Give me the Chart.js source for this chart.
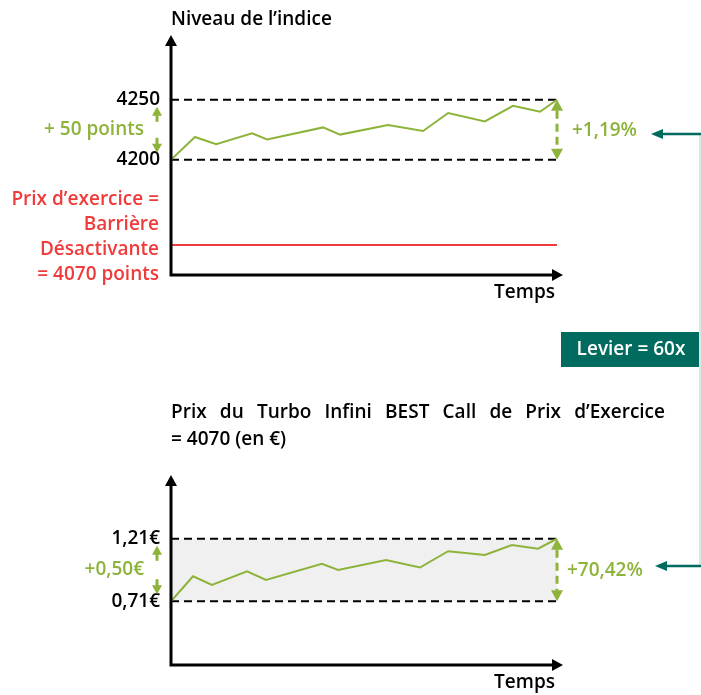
<!DOCTYPE html>
<html>
<head>
<meta charset="utf-8">
<script src="https://cdn.jsdelivr.net/npm/chart.js@4.4.1/dist/chart.umd.min.js"></script>
<style>
  html, body { margin: 0; padding: 0; background: #ffffff; }
  #wrap { position: relative; width: 701px; height: 695px; overflow: hidden; }
  canvas { position: absolute; left: 0; top: 0; }
</style>
</head>
<body>
<div id="wrap">
  <canvas id="c1" width="701" height="695"></canvas>
  <canvas id="c2" width="701" height="695"></canvas>
</div>
<script>
// ---------- Data ----------
// Top chart: index level over time (time in arbitrary units, 0..100)
const indexTimes  = [0, 6.2, 11.7, 21.0, 24.9, 39.4, 43.8, 56.2, 65.3, 71.8, 81.3, 88.6, 95.6, 100];
const indexValues = [4200, 4219, 4213, 4222, 4217, 4227, 4221, 4229, 4224, 4239, 4232, 4245, 4240, 4250];
const indexRefLevels = [4200, 4250];           // dashed reference lines
const indexTickLabels = ['4200', '4250'];
// Barrier line: labelled 4070 points, drawn schematically at this level in the picture
const barrierDrawLevel = 4129;
const barrierLabel = ['Prix d\u2019exercice =', 'Barri\u00e8re', 'D\u00e9sactivante', '= 4070 points'];

// Bottom chart: turbo price over time
const turboTimes  = [0, 5.7, 10.6, 19.7, 24.6, 39.1, 43.3, 55.7, 64.5, 71.8, 81.3, 88.3, 95.1, 100];
const turboValues = [0.71, 0.91, 0.84, 0.95, 0.88, 1.01, 0.96, 1.04, 0.98, 1.11, 1.08, 1.16, 1.13, 1.21];
const turboRefLevels = [0.71, 1.21];
const turboTickLabels = ['0,71\u20ac', '1,21\u20ac'];

const indexDeltaLabel = '+ 50 points';
const indexPctLabel = '+1,19%';
const turboDeltaLabel = '+0,50\u20ac';
const turboPctLabel = '+70,42%';
const leverageLabel = 'Levier = 60x';
const title1 = 'Niveau de l\u2019indice';
const title2Line1 = 'Prix du Turbo Infini BEST Call de Prix d\u2019Exercice';
const title2Line2 = '= 4070 (en \u20ac)';
const xAxisLabel = 'Temps';

// ---------- Styles ----------
const GREEN = '#8db33a';
const RED = '#ef3b3b';
const TEAL = '#006b5e';
const FONT = '600 19px "Open Sans", Lato, sans-serif';

function arrowHead(ctx, x, y, dir, len, half) {
  ctx.beginPath();
  ctx.moveTo(x, y);
  if (dir === 'up') { ctx.lineTo(x - half, y + len); ctx.lineTo(x + half, y + len); }
  if (dir === 'down') { ctx.lineTo(x - half, y - len); ctx.lineTo(x + half, y - len); }
  if (dir === 'right') { ctx.lineTo(x - len, y - half); ctx.lineTo(x - len, y + half); }
  if (dir === 'left') { ctx.lineTo(x + len, y - half); ctx.lineTo(x + len, y + half); }
  ctx.closePath();
  ctx.fill();
}

function drawAxes(chart) {
  const ctx = chart.ctx, a = chart.chartArea;
  ctx.save();
  ctx.strokeStyle = '#000'; ctx.fillStyle = '#000'; ctx.lineWidth = 3;
  ctx.beginPath();
  ctx.moveTo(a.left, a.top + 8); ctx.lineTo(a.left, a.bottom);
  ctx.lineTo(a.right - 8, a.bottom);
  ctx.stroke();
  arrowHead(ctx, a.left, a.top, 'up', 11, 6);
  arrowHead(ctx, a.right, a.bottom, 'right', 11, 6);
  ctx.font = FONT;
  ctx.textAlign = 'right'; ctx.textBaseline = 'middle';
  ctx.fillText(xAxisLabel, a.right - 8, a.bottom + 18);
  ctx.restore();
}

function drawDoubleArrowSmall(ctx, x, yTop, yBot) {
  ctx.save();
  ctx.fillStyle = GREEN; ctx.strokeStyle = GREEN; ctx.lineWidth = 3;
  arrowHead(ctx, x, yTop + 7, 'up', 9, 5);
  ctx.beginPath(); ctx.moveTo(x, yTop + 15); ctx.lineTo(x, yTop + 22); ctx.stroke();
  ctx.beginPath(); ctx.moveTo(x, yBot - 22); ctx.lineTo(x, yBot - 15); ctx.stroke();
  arrowHead(ctx, x, yBot - 7, 'down', 9, 5);
  ctx.restore();
}

function drawDashedDoubleArrow(ctx, x, yTop, yBot) {
  ctx.save();
  ctx.fillStyle = GREEN; ctx.strokeStyle = GREEN; ctx.lineWidth = 3;
  arrowHead(ctx, x, yTop, 'up', 11, 6);
  arrowHead(ctx, x, yBot, 'down', 11, 6);
  ctx.setLineDash([8, 5]);
  ctx.beginPath(); ctx.moveTo(x, yTop + 11); ctx.lineTo(x, yBot - 11); ctx.stroke();
  ctx.restore();
}

function refLines(chart, levels, labels, band, deltaLabel) {
  const ctx = chart.ctx, xs = chart.scales.x, ys = chart.scales.y;
  const x0 = xs.getPixelForValue(0), x1 = xs.getPixelForValue(100);
  const yLo = ys.getPixelForValue(levels[0]), yHi = ys.getPixelForValue(levels[1]);
  ctx.save();
  if (band) {
    ctx.fillStyle = '#f0f0f0';
    ctx.fillRect(x0, yHi, x1 - x0, yLo - yHi);
  }
  ctx.strokeStyle = '#000'; ctx.lineWidth = 2; ctx.setLineDash([8, 5]);
  [yLo, yHi].forEach(y => { ctx.beginPath(); ctx.moveTo(x0, y); ctx.lineTo(x1, y); ctx.stroke(); });
  ctx.setLineDash([]);
  ctx.font = FONT; ctx.fillStyle = '#000';
  ctx.textAlign = 'right'; ctx.textBaseline = 'middle';
  ctx.fillText(labels[0], x0 - 11, yLo);
  ctx.fillText(labels[1], x0 - 11, yHi);
  ctx.fillStyle = GREEN;
  ctx.fillText(deltaLabel, x0 - 27, (yLo + yHi) / 2);
  ctx.restore();
  drawDoubleArrowSmall(ctx, x0 - 14, yHi, yLo);
}

function afterRef(chart, levels, pctLabel, pctX) {
  const ctx = chart.ctx, xs = chart.scales.x, ys = chart.scales.y;
  const x1 = xs.getPixelForValue(100);
  const yLo = ys.getPixelForValue(levels[0]), yHi = ys.getPixelForValue(levels[1]);
  drawDashedDoubleArrow(ctx, x1, yHi, yLo);
  ctx.save();
  ctx.font = FONT; ctx.fillStyle = GREEN;
  ctx.textAlign = 'left'; ctx.textBaseline = 'middle';
  ctx.fillText(pctLabel, pctX, (yLo + yHi) / 2 + 1);
  ctx.restore();
}

// ---------- Chart 1 ----------
const plugin1 = {
  id: 'p1',
  beforeDatasetsDraw(chart) {
    const ctx = chart.ctx, xs = chart.scales.x, ys = chart.scales.y;
    refLines(chart, indexRefLevels, indexTickLabels, false, indexDeltaLabel);
    const yb = ys.getPixelForValue(barrierDrawLevel);
    ctx.save();
    ctx.strokeStyle = RED; ctx.lineWidth = 2;
    ctx.beginPath(); ctx.moveTo(xs.getPixelForValue(0), yb); ctx.lineTo(xs.getPixelForValue(100), yb); ctx.stroke();
    ctx.font = FONT; ctx.fillStyle = RED;
    ctx.textAlign = 'right'; ctx.textBaseline = 'middle';
    const a = chart.chartArea;
    barrierLabel.forEach((t, i) => ctx.fillText(t, a.left - 12, yb - 45 + i * 25));
    ctx.restore();
  },
  afterDraw(chart) {
    drawAxes(chart);
    afterRef(chart, indexRefLevels, indexPctLabel, 572);
    const ctx = chart.ctx, a = chart.chartArea;
    ctx.save();
    ctx.font = FONT; ctx.fillStyle = '#000';
    ctx.textAlign = 'left'; ctx.textBaseline = 'middle';
    ctx.fillText(title1, a.left, 20);
    ctx.restore();
  }
};

new Chart(document.getElementById('c1'), {
  type: 'line',
  data: {
    datasets: [{
      data: indexTimes.map((t, i) => ({ x: t, y: indexValues[i] })),
      borderColor: GREEN, borderWidth: 2, pointRadius: 0, tension: 0, fill: false
    }]
  },
  options: {
    responsive: false, animation: false,
    layout: { padding: { left: 171, right: 138, top: 35, bottom: 420 } },
    plugins: { legend: { display: false }, tooltip: { enabled: false } },
    scales: {
      x: { type: 'linear', min: 0, max: 101.55, display: false },
      y: { type: 'linear', min: 4104, max: 4304, display: false }
    }
  },
  plugins: [plugin1]
});

// ---------- Chart 2 ----------
const plugin2 = {
  id: 'p2',
  beforeDatasetsDraw(chart) {
    refLines(chart, turboRefLevels, turboTickLabels, true, turboDeltaLabel);
  },
  afterDraw(chart) {
    drawAxes(chart);
    afterRef(chart, turboRefLevels, turboPctLabel, 567);
    const ctx = chart.ctx, a = chart.chartArea;
    ctx.save();
    ctx.font = FONT; ctx.fillStyle = '#000';
    ctx.textAlign = 'left'; ctx.textBaseline = 'middle';
    const words = title2Line1.split(' ');
    const left = a.left, right = 665;
    const wsum = words.reduce((s, w) => s + ctx.measureText(w).width, 0);
    const gap = (right - left - wsum) / (words.length - 1);
    let x = left;
    words.forEach(w => { ctx.fillText(w, x, 413); x += ctx.measureText(w).width + gap; });
    ctx.fillText(title2Line2, left, 440);

    ctx.strokeStyle = '#d9e8e5'; ctx.lineWidth = 2;
    ctx.beginPath(); ctx.moveTo(700, 134); ctx.lineTo(700, 566); ctx.stroke();
    ctx.strokeStyle = TEAL; ctx.fillStyle = TEAL; ctx.lineWidth = 2.5;
    ctx.beginPath(); ctx.moveTo(701, 134); ctx.lineTo(660, 134); ctx.stroke();
    arrowHead(ctx, 651, 134, 'left', 12, 5);
    ctx.beginPath(); ctx.moveTo(701, 566); ctx.lineTo(664, 566); ctx.stroke();
    arrowHead(ctx, 655, 566, 'left', 12, 5);
    ctx.fillRect(561, 332, 138, 35);
    ctx.fillStyle = '#ffffff'; ctx.textAlign = 'center';
    ctx.fillText(leverageLabel, 631, 350);
    ctx.restore();
  }
};

new Chart(document.getElementById('c2'), {
  type: 'line',
  data: {
    datasets: [{
      data: turboTimes.map((t, i) => ({ x: t, y: turboValues[i] })),
      borderColor: GREEN, borderWidth: 2, pointRadius: 0, tension: 0, fill: false
    }]
  },
  options: {
    responsive: false, animation: false,
    layout: { padding: { left: 171, right: 138, top: 475, bottom: 30 } },
    plugins: { legend: { display: false }, tooltip: { enabled: false } },
    scales: {
      x: { type: 'linear', min: 0, max: 101.55, display: false },
      y: { type: 'linear', min: 0.2, max: 1.72, display: false }
    }
  },
  plugins: [plugin2]
});
</script>
</body>
</html>
